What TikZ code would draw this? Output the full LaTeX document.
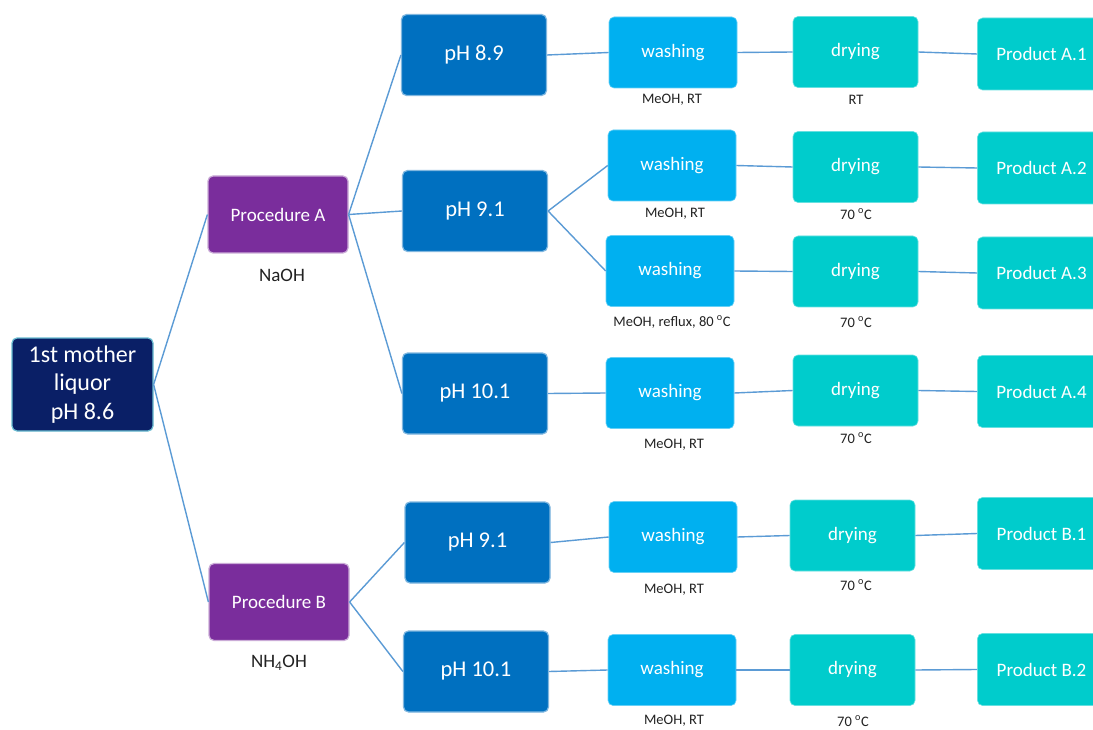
\documentclass[tikz,border=0pt]{standalone}
\usepackage{fontspec}
\setmainfont{Carlito}
\definecolor{navyc}{HTML}{0A1F66}
\definecolor{purp}{HTML}{7A2D9C}
\definecolor{phc}{HTML}{0070C0}
\definecolor{washc}{HTML}{00B0F0}
\definecolor{dryc}{HTML}{00CCCC}
\definecolor{linec}{HTML}{5B9BD5}
\definecolor{labc}{HTML}{222222}
\tikzset{
  box/.style={rounded corners=5pt, inner sep=0pt, text=white, align=center},
  mother/.style={box, fill=navyc, draw=navyc!50!cyan!60!white, line width=1.2pt, minimum width=141pt, minimum height=93pt, font=\fontsize{24}{28.5}\selectfont},
  proc/.style={box, fill=purp, draw=purp!40!white, line width=1.2pt, minimum width=140pt, minimum height=77pt, font=\fontsize{19}{22}\selectfont},
  phbox/.style={box, fill=phc, draw=phc!50!white, line width=1.2pt, minimum width=145pt, minimum height=81pt, font=\fontsize{22.5}{26}\selectfont},
  wash/.style={box, fill=washc, draw=washc!60!white, line width=0.6pt, minimum width=128pt, minimum height=71pt, font=\fontsize{19}{22}\selectfont},
  dry/.style={box, fill=dryc, draw=dryc!60!white, line width=0.6pt, minimum width=125pt, minimum height=71pt, font=\fontsize{19}{22}\selectfont},
  prod/.style={box, fill=dryc, draw=dryc!60!white, line width=0.6pt, minimum width=130pt, minimum height=72pt, font=\fontsize{19}{22}\selectfont},
  lab/.style={inner sep=0pt, text=labc, font=\fontsize{14.5}{17}\selectfont},
  biglab/.style={inner sep=0pt, text=labc, font=\fontsize{19}{22}\selectfont},
  conn/.style={draw=linec, line width=1.4pt}
}
\begin{document}
\begin{tikzpicture}[x=1pt,y=-1pt]
\clip (0,0) rectangle (1093,730);
\fill[white] (0,0) rectangle (1093,730);
% nodes
\node[mother] (m) at (82.5,384.5) {1st mother\\liquor\\pH 8.6};
\node[proc] (pa) at (278,214.5) {Procedure A};
\node[proc] (pb) at (279,602) {Procedure B};
\node[biglab] (la) at (282,275) {NaOH};
\node[biglab] (lb) at (279,663) {NH\textsubscript{4}OH};
\node[phbox] (p1) at (474,55) {pH 8.9};
\node[phbox] (p2) at (475,211) {pH 9.1};
\node[phbox] (p3) at (475,393.5) {pH 10.1};
\node[phbox] (p4) at (477.5,542.5) {pH 9.1};
\node[phbox] (p5) at (476,671.5) {pH 10.1};
\node[wash] (w1) at (673,52.5) {washing};
\node[wash] (w2) at (672,165.5) {washing};
\node[wash] (w3) at (670,271) {washing};
\node[wash] (w4) at (670,393) {washing};
\node[wash] (w5) at (673,537) {washing};
\node[wash] (w6) at (672,670) {washing};
\node[dry] (d1) at (855.5,52) {drying};
\node[dry] (d2) at (855.5,167) {drying};
\node[dry] (d3) at (855.5,271.5) {drying};
\node[dry] (d4) at (855.5,390.5) {drying};
\node[dry] (d5) at (852.5,535.5) {drying};
\node[dry] (d6) at (852.5,670) {drying};
\node[prod] (r1) at (1042.5,54) {Product A.1\hspace*{2pt}};
\node[prod] (r2) at (1042.5,168) {Product A.2\hspace*{2pt}};
\node[prod] (r3) at (1042.5,273) {Product A.3\hspace*{2pt}};
\node[prod] (r4) at (1042.5,391.5) {Product A.4\hspace*{2pt}};
\node[prod] (r5) at (1042.5,533.5) {Product B.1\hspace*{2pt}};
\node[prod] (r6) at (1042.5,669.5) {Product B.2\hspace*{2pt}};
% labels
\node[lab] (lw1) at (672,100) {MeOH, RT};
\node[lab] (lw2) at (675,214) {MeOH, RT};
\node[lab] (lw3) at (672,322) {MeOH, reflux, 80 \textsuperscript{o}C};
\node[lab] (lw4) at (674,445) {MeOH, RT};
\node[lab] (lw5) at (674,590) {MeOH, RT};
\node[lab] (lw6) at (674,721) {MeOH, RT};
\node[lab] (ld1) at (856,100) {RT};
\node[lab] (ld2) at (856,214) {70 \textsuperscript{o}C};
\node[lab] (ld3) at (856,322) {70 \textsuperscript{o}C};
\node[lab] (ld4) at (856,438) {70 \textsuperscript{o}C};
\node[lab] (ld5) at (856,585) {70 \textsuperscript{o}C};
\node[lab] (ld6) at (853,721) {70 \textsuperscript{o}C};
% connectors
\draw[conn] (m.east) -- (pa.west);
\draw[conn] (m.east) -- (pb.west);
\draw[conn] (pa.east) -- (p1.west);
\draw[conn] (pa.east) -- (p2.west);
\draw[conn] (pa.east) -- (p3.west);
\draw[conn] (pb.east) -- (p4.west);
\draw[conn] (pb.east) -- (p5.west);
\draw[conn] (p1.east) -- (w1.west);
\draw[conn] (p2.east) -- (w2.west);
\draw[conn] (p2.east) -- (w3.west);
\draw[conn] (p3.east) -- (w4.west);
\draw[conn] (p4.east) -- (w5.west);
\draw[conn] (p5.east) -- (w6.west);
\draw[conn] (w1.east) -- (d1.west);
\draw[conn] (w2.east) -- (d2.west);
\draw[conn] (w3.east) -- (d3.west);
\draw[conn] (w4.east) -- (d4.west);
\draw[conn] (w5.east) -- (d5.west);
\draw[conn] (w6.east) -- (d6.west);
\draw[conn] (d1.east) -- (r1.west);
\draw[conn] (d2.east) -- (r2.west);
\draw[conn] (d3.east) -- (r3.west);
\draw[conn] (d4.east) -- (r4.west);
\draw[conn] (d5.east) -- (r5.west);
\draw[conn] (d6.east) -- (r6.west);
\end{tikzpicture}
\end{document}
